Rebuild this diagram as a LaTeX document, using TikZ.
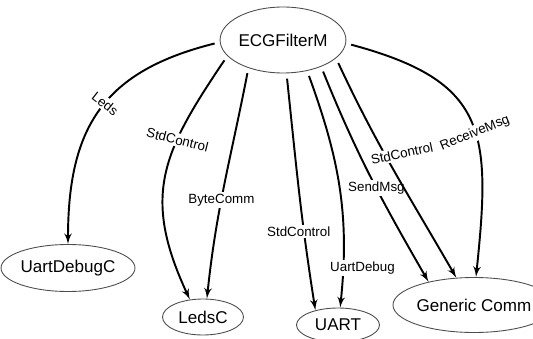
\documentclass[tikz,border=0pt]{standalone}
\usepackage{fontspec}
\setmainfont{Liberation Sans}
\usetikzlibrary{shapes,arrows}

\begin{document}
\begin{tikzpicture}[>=latex', x=0.02cm, y=0.02cm,
  comp/.style={draw=gray!60!black, line width=0.5pt, ellipse, inner sep=0pt,
    font=\fontsize{9.7}{11}\selectfont},
  wire/.style={->, line width=1.1pt, shorten <=3pt},
  lbl/.style={fill=white, inner sep=1pt, font=\fontsize{7.6}{9}\selectfont}]
  \useasboundingbox (0,0) rectangle (533,338);
  \node[comp, minimum width=2.46cm, minimum height=1.32cm] (ecg) at (283,298) {ECGFilterM};
  \node[comp, minimum width=2.44cm, minimum height=0.94cm] (udc) at (68,70) {UartDebugC};
  \node[comp, minimum width=1.62cm, minimum height=0.72cm] (ledsc) at (203,21) {LedsC};
  \node[comp, minimum width=1.66cm, minimum height=0.68cm] (uart) at (338,13) {UART};
  \node[comp, minimum width=2.44cm, minimum height=1.1cm] (gc) at (474,33) {Generic Comm};

  \draw[wire] (ecg.182) to[out=194, in=90, looseness=1.2] node[lbl, pos=0.47, rotate=-38] {Leds} (udc.north);
  \draw[wire] (ecg.196) to[out=236, in=115, looseness=1.2] node[lbl, pos=0.34, rotate=-14] {StdControl} (ledsc.127);
  \draw[wire] (ecg.219) to[out=259, in=84] node[lbl, pos=0.58] {ByteComm} (ledsc.78);
  \draw[wire] (ecg.276) to[out=276, in=99] node[lbl, pos=0.68, xshift=-3pt] {StdControl} (uart.147);
  \draw[wire] (ecg.308) to[out=290, in=84] node[lbl, pos=0.85, xshift=11pt] {UartDebug} (uart.83);
  \draw[wire] (ecg.325) to[out=292, in=120] node[lbl, pos=0.56] {SendMsg} (gc.153);
  \draw[wire] (ecg.341) to[out=295, in=120] node[lbl, pos=0.42, xshift=10pt, rotate=12] {StdControl} (gc.123);
  \draw[wire] (ecg.357) to[out=345, in=84, looseness=1.4] node[lbl, pos=0.56, rotate=22] {ReceiveMsg} (gc.86);
\end{tikzpicture}
\end{document}
